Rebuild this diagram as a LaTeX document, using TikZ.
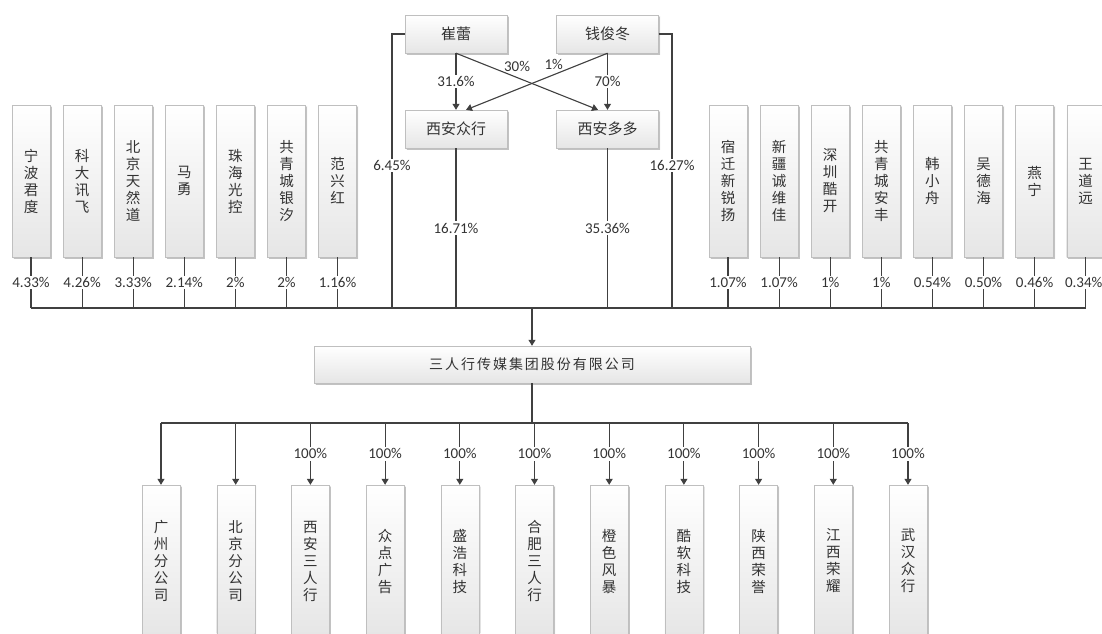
\documentclass[tikz,border=0pt]{standalone}
\usepackage{fontspec}
\setmainfont{Carlito}
\newfontfamily\cjk{Noto Sans CJK SC}
\newfontfamily\cjkwide[LetterSpace=14]{Noto Sans CJK SC}
\usepackage{xcolor}
\usepackage{tikz}
\usetikzlibrary{positioning,shadows,arrows.meta}
\definecolor{linegray}{HTML}{404040}
\definecolor{textgray}{HTML}{333333}

\tikzset{
  box/.style={rectangle, draw=gray!50, top color=white, bottom color=gray!20,
    text=textgray, drop shadow={shadow xshift=1.5pt, shadow yshift=-1.5pt,
    top color=gray!45, bottom color=gray!45, draw=none, opacity=0.5}},
  tallbox/.style={box, minimum width=38pt, minimum height=152pt, inner sep=0pt,
    align=center, font=\cjk\fontsize{14.5}{17}\selectfont},
  namebox/.style={box, minimum width=102pt, minimum height=38pt, inner sep=0pt,
    font=\cjk\fontsize{15}{18}\selectfont},
  pct/.style={fill=white, inner sep=1.5pt, text=textgray, font=\fontsize{15}{18}\selectfont},
  crosspct/.style={above=4pt, inner sep=1pt, text=textgray, font=\fontsize{15}{18}\selectfont},
  link/.style={draw=linegray, line width=1.1pt},
  arr/.style={link, -{Triangle[length=6pt,width=7pt]}}
}

\begin{document}
\begin{tikzpicture}[x=1pt, y=-1pt]
  \useasboundingbox (0,0) rectangle (1102,633);
  \clip (0,0) rectangle (1102,633);

  % top owners and their holdings
  \node (cui) [namebox] at (456,34) {崔蕾};
  \node (qian) [namebox] at (607.5,34) {钱俊冬};
  \node (zx) [namebox] at (456,129) {西安众行};
  \node (dd) [namebox] at (607.5,129) {西安多多};

  % shareholders, left
  \node (nb) [tallbox] at (31,181) {宁\\波\\君\\度};
  \node (kd) [tallbox, right=12.7pt of nb] {科\\大\\讯\\飞};
  \node (bt) [tallbox, right=12.7pt of kd] {北\\京\\天\\然\\道};
  \node (my) [tallbox, right=12.7pt of bt] {马\\勇};
  \node (zh) [tallbox, right=12.7pt of my] {珠\\海\\光\\控};
  \node (yx) [tallbox, right=12.7pt of zh] {共\\青\\城\\银\\汐};
  \node (fx) [tallbox, right=12.7pt of yx] {范\\兴\\红};

  % shareholders, right
  \node (sq) [tallbox] at (728,181) {宿\\迁\\新\\锐\\扬};
  \node (xj) [tallbox, right=12.7pt of sq] {新\\疆\\诚\\维\\佳};
  \node (sz) [tallbox, right=12.7pt of xj] {深\\圳\\酷\\开};
  \node (af) [tallbox, right=12.7pt of sz] {共\\青\\城\\安\\丰};
  \node (hx) [tallbox, right=12.7pt of af] {韩\\小\\舟};
  \node (wd) [tallbox, right=12.7pt of hx] {吴\\德\\海};
  \node (yn) [tallbox, right=12.7pt of wd] {燕\\宁};
  \node (wy) [tallbox, right=12.7pt of yn] {王\\道\\远};

  % group company
  \coordinate (bus) at (532,308);
  \node (srx) [box, minimum width=436pt, minimum height=37pt, inner sep=0pt,
    font=\cjkwide\fontsize{14}{17}\selectfont] at (532,364.5) {三人行传媒集团股份有限公司};

  % subsidiaries
  \coordinate (sub) at (532,423);
  \node (gz) [tallbox] at (161,561) {广\\州\\分\\公\\司};
  \node (bj) [tallbox, right=36.3pt of gz] {北\\京\\分\\公\\司};
  \node (xa) [tallbox, right=36.3pt of bj] {西\\安\\三\\人\\行};
  \node (zd) [tallbox, right=36.3pt of xa] {众\\点\\广\\告};
  \node (sh) [tallbox, right=36.3pt of zd] {盛\\浩\\科\\技};
  \node (hf) [tallbox, right=36.3pt of sh] {合\\肥\\三\\人\\行};
  \node (cs) [tallbox, right=36.3pt of hf] {橙\\色\\风\\暴};
  \node (kr) [tallbox, right=36.3pt of cs] {酷\\软\\科\\技};
  \node (sx) [tallbox, right=36.3pt of kr] {陕\\西\\荣\\誉};
  \node (jx) [tallbox, right=36.3pt of sx] {江\\西\\荣\\耀};
  \node (wh) [tallbox, right=36.3pt of jx] {武\\汉\\众\\行};

  % cross holdings
  \draw[arr] (cui) -- node[pct]{31.6\%} (zx);
  \draw[arr] (qian) -- node[pct]{70\%} (dd);
  \draw[arr] (cui.south) -- node[pos=0.43, crosspct]{30\%} ([xshift=-9.5pt]dd.north);
  \draw[arr] (qian.south) -- node[pos=0.38, crosspct]{1\%} ([xshift=10pt]zx.north);

  % direct holdings into the bus
  \coordinate (cuiturn) at (392,34);
  \coordinate (qianturn) at (672,34);
  \draw[link] (cui.west) -- (cuiturn) -- node[pct, pos=0.48]{6.45\%} (cuiturn |- bus);
  \draw[link] (qian.east) -- (qianturn) -- node[pct, pos=0.48]{16.27\%} (qianturn |- bus);
  \draw[link] (zx) -- node[pct]{16.71\%} (zx |- bus);
  \draw[link] (dd) -- node[pct]{35.36\%} (dd |- bus);

  \draw[link] (nb) -- node[pct]{4.33\%} (nb |- bus);
  \draw[link] (kd) -- node[pct]{4.26\%} (kd |- bus);
  \draw[link] (bt) -- node[pct]{3.33\%} (bt |- bus);
  \draw[link] (my) -- node[pct]{2.14\%} (my |- bus);
  \draw[link] (zh) -- node[pct]{2\%} (zh |- bus);
  \draw[link] (yx) -- node[pct]{2\%} (yx |- bus);
  \draw[link] (fx) -- node[pct]{1.16\%} (fx |- bus);
  \draw[link] (sq) -- node[pct]{1.07\%} (sq |- bus);
  \draw[link] (xj) -- node[pct]{1.07\%} (xj |- bus);
  \draw[link] (sz) -- node[pct]{1\%} (sz |- bus);
  \draw[link] (af) -- node[pct]{1\%} (af |- bus);
  \draw[link] (hx) -- node[pct]{0.54\%} (hx |- bus);
  \draw[link] (wd) -- node[pct]{0.50\%} (wd |- bus);
  \draw[link] (yn) -- node[pct]{0.46\%} (yn |- bus);
  \draw[link] (wy) -- node[pct, xshift=-2pt]{0.34\%} (wy |- bus);
  \draw[link] (nb |- bus) -- (wy |- bus);
  \draw[arr] (bus) -- (srx);

  % down to subsidiaries
  \draw[link] (srx) -- (sub);
  \draw[link] (gz |- sub) -- (wh |- sub);
  \draw[arr] (gz |- sub) -- (gz);
  \draw[arr] (bj |- sub) -- (bj);
  \draw[arr] (xa |- sub) -- node[pct]{100\%} (xa);
  \draw[arr] (zd |- sub) -- node[pct]{100\%} (zd);
  \draw[arr] (sh |- sub) -- node[pct]{100\%} (sh);
  \draw[arr] (hf |- sub) -- node[pct]{100\%} (hf);
  \draw[arr] (cs |- sub) -- node[pct]{100\%} (cs);
  \draw[arr] (kr |- sub) -- node[pct]{100\%} (kr);
  \draw[arr] (sx |- sub) -- node[pct]{100\%} (sx);
  \draw[arr] (jx |- sub) -- node[pct]{100\%} (jx);
  \draw[arr] (wh |- sub) -- node[pct]{100\%} (wh);
\end{tikzpicture}
\end{document}
